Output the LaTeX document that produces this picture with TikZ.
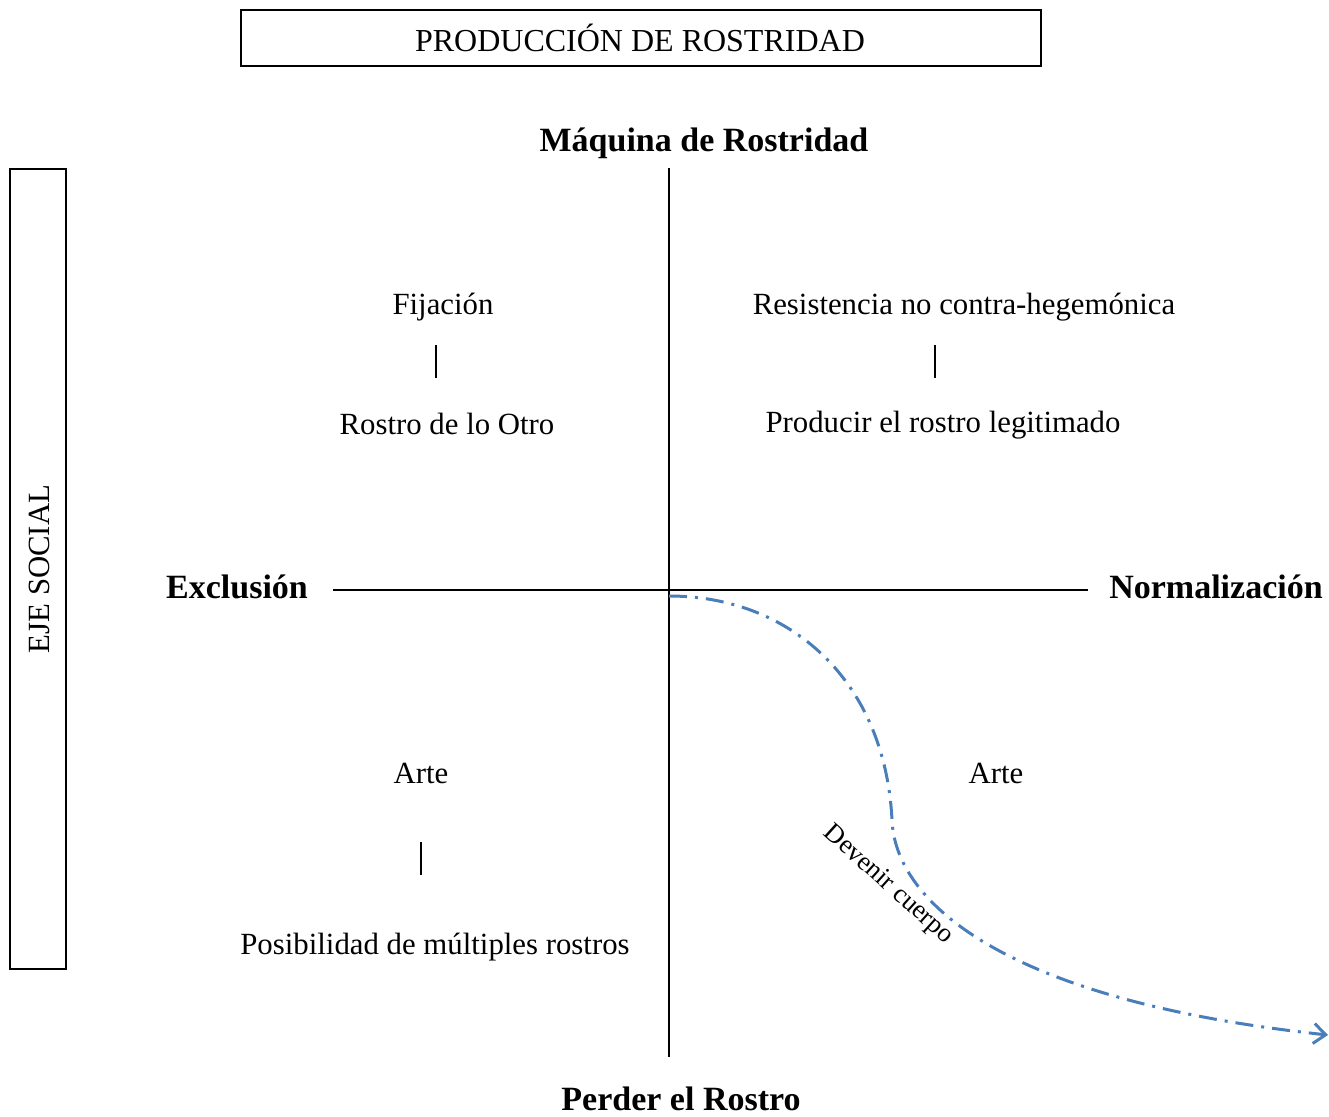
\documentclass[tikz,border=0pt]{standalone}
\usepackage{fontspec}
\setmainfont{Liberation Serif}
\usepackage[HTML]{xcolor}
\usetikzlibrary{arrows.meta}
\definecolor{curveblue}{HTML}{4A7EBB}

\begin{document}
\begin{tikzpicture}[x=0.5pt,y=-0.5pt,
  plain/.style={font=\fontsize{15.4}{19}\selectfont, inner sep=0pt},
  axislabel/.style={font=\fontsize{17}{20}\selectfont\bfseries, inner sep=0pt},
  framebox/.style={draw, line width=1pt},
  axisline/.style={line width=1pt},
  bar/.style={line width=0.9pt},
  flow/.style={curveblue, line width=1.5pt,
    dash pattern=on 9pt off 4pt on 1.5pt off 4pt,
    -{Straight Barb[length=6pt,width=10pt]}}]
\useasboundingbox (0,0) rectangle (1329,1116);

% Frames
\draw[framebox] (241,10) rectangle (1041,66);
\node[plain, font=\fontsize{16}{19}\selectfont] (title) at (640,38) {PRODUCCIÓN DE ROSTRIDAD};
\draw[framebox] (10,169) rectangle (66,969);
\node[plain, rotate=90] (eje) at (39,569) {EJE SOCIAL};

% Axes
\coordinate (top) at (669,168);
\coordinate (bottom) at (669,1057);
\coordinate (left) at (333,590);
\coordinate (right) at (1088,590);
\draw[axisline] (top) -- (bottom);
\draw[axisline] (left) -- (right);
\node[axislabel] (maquina) at (704,143) {Máquina de Rostridad};
\node[axislabel] (perder) at (681,1099) {Perder el Rostro};
\node[axislabel] (exclusion) at (237,587) {Exclusión};
\node[axislabel] (normal) at (1216,587) {Normalización};

% Upper left
\node[plain] (fija) at (443,307) {Fijación};
\node[plain] (otro) at (447,424) {Rostro de lo Otro};
\draw[bar] (436,345) -- (436,378);

% Upper right
\node[plain] (resist) at (964,307) {Resistencia no contra-hegemónica};
\node[plain] (legit) at (943,425) {Producir el rostro legitimado};
\draw[bar] (935,345) -- (935,378);

% Lower left
\node[plain] (arteA) at (421,773) {Arte};
\node[plain] (multi) at (435,947) {Posibilidad de múltiples rostros};
\draw[bar] (421,842) -- (421,875);

% Lower right
\node[plain] (arteB) at (996,773) {Arte};

% Becoming body
\coordinate (start) at (669,596);
\coordinate (bend) at (892,820);
\coordinate (tip) at (1328,1035);
\draw[flow] (start) .. controls (790,596) and (885,680) .. (bend)
  .. controls (895,900) and (1000,1000) .. (tip);
\node[font=\fontsize{13.3}{16}\selectfont, inner sep=0pt, rotate=-42] (devenir) at (888,885) {Devenir cuerpo};
\end{tikzpicture}
\end{document}
